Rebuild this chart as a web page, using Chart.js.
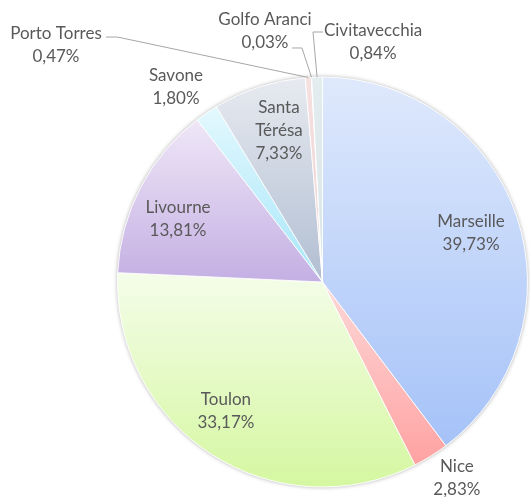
<!DOCTYPE html>
<html>
<head>
<meta charset="utf-8">
<script src="https://cdn.jsdelivr.net/npm/chart.js@4/dist/chart.umd.min.js"></script>
<style>
  html, body { margin: 0; padding: 0; background: #ffffff; }
  #wrap { width: 530px; height: 497px; position: relative; }
</style>
</head>
<body>
<div id="wrap"><canvas id="c" width="530" height="497"></canvas></div>
<script>
// ---- data ----
const categories = ['Marseille', 'Nice', 'Toulon', 'Livourne', 'Savone', 'Santa Térésa', 'Porto Torres', 'Golfo Aranci', 'Civitavecchia'];
const shares = [39.73, 2.83, 33.17, 13.81, 1.80, 7.33, 0.47, 0.03, 0.84];
const labelLines = [['Marseille'], ['Nice'], ['Toulon'], ['Livourne'], ['Savone'], ['Santa', 'Térésa'], ['Porto Torres'], ['Golfo Aranci'], ['Civitavecchia']];

// ---- styles ----
const colorTop = ['#dfe9fc', '#fdd8d8', '#f4fde9', '#efe7f7', '#e3f8fd', '#e7eaf0', '#f5e0e0', '#f3dede', '#e3ecee'];
const colorBottom = ['#a5c2f8', '#ffa2a2', '#d5f7a0', '#c4afe3', '#a6e6fa', '#b1bed2', '#efd2d2', '#efd4d4', '#dae6e9'];
// label placement relative to pie centre, in units of the radius
const labelPos = [
  [0.723, -0.238], [0.654, 0.954], [-0.470, 0.630], [-0.703, -0.307], [-0.713, -0.951],
  [-0.212, -0.735], [-1.297, -1.153], [-0.280, -1.221], [0.246, -1.168]
];
// leader lines: [start, elbow] in radius units, null = no leader
const leaders = [null, null, null, null, null, null,
  [[-1.0535, -1.192], [-0.9976, -1.192]],
  [[-0.1484, -1.1387], [-0.0998, -1.1387]],
  [[0.0024, -1.2165], [-0.0462, -1.2165]]
];

const total = shares.reduce((a, b) => a + b, 0);

function pieGeom(chart) {
  const ca = chart.chartArea;
  const cx = (ca.left + ca.right) / 2, cy = (ca.top + ca.bottom) / 2;
  const R = Math.min(ca.right - ca.left, ca.bottom - ca.top) / 2;
  return { cx, cy, R };
}
function angleRange(i) {
  let cum = 0;
  for (let k = 0; k < i; k++) cum += shares[k];
  const a0 = -Math.PI / 2 + 2 * Math.PI * cum / total;
  const a1 = a0 + 2 * Math.PI * shares[i] / total;
  return [a0, a1];
}
function contains(a0, a1, a) {
  const twoPi = 2 * Math.PI;
  let x = a;
  while (x < a0) x += twoPi;
  while (x > a0 + twoPi) x -= twoPi;
  return x <= a1;
}

const shadowPlugin = {
  id: 'pieShadow',
  beforeDatasetsDraw(chart) {
    const { cx, cy, R } = pieGeom(chart);
    const ctx = chart.ctx;
    ctx.save();
    ctx.shadowColor = 'rgba(0,0,0,0.35)';
    ctx.shadowBlur = 4;
    ctx.shadowOffsetX = 0;
    ctx.shadowOffsetY = 0;
    ctx.fillStyle = '#ffffff';
    ctx.beginPath();
    ctx.arc(cx, cy, R - 0.5, 0, Math.PI * 2);
    ctx.fill();
    ctx.restore();
  }
};

const labelPlugin = {
  id: 'pieLabels',
  afterDatasetsDraw(chart) {
    const { cx, cy, R } = pieGeom(chart);
    const ctx = chart.ctx;
    const meta = chart.getDatasetMeta(0);
    ctx.save();
    // leaders
    ctx.strokeStyle = '#a6a6a6';
    ctx.lineWidth = 1;
    leaders.forEach((ld, i) => {
      if (!ld) return;
      const arc = meta.data[i];
      const mid = (arc.startAngle + arc.endAngle) / 2;
      const tx = arc.x + Math.cos(mid) * arc.outerRadius;
      const ty = arc.y + Math.sin(mid) * arc.outerRadius;
      ctx.beginPath();
      ctx.moveTo(cx + ld[0][0] * R, cy + ld[0][1] * R);
      ctx.lineTo(cx + ld[1][0] * R, cy + ld[1][1] * R);
      ctx.lineTo(tx, ty);
      ctx.stroke();
    });
    // text
    ctx.fillStyle = '#595959';
    ctx.font = '17px Lato, "Open Sans", sans-serif';
    ctx.textAlign = 'center';
    ctx.textBaseline = 'middle';
    const lh = 23;
    categories.forEach((c, i) => {
      const lines = labelLines[i].concat([shares[i].toFixed(2).replace('.', ',') + '%']);
      const x = cx + labelPos[i][0] * R;
      const y = cy + labelPos[i][1] * R;
      const y0 = y - (lines.length - 1) * lh / 2;
      lines.forEach((t, k) => ctx.fillText(t, x, y0 + k * lh));
    });
    ctx.restore();
  }
};

new Chart(document.getElementById('c'), {
  type: 'pie',
  data: {
    labels: categories,
    datasets: [{
      data: shares,
      backgroundColor(ctx) {
        const chart = ctx.chart;
        if (!chart.chartArea) return colorTop[ctx.dataIndex];
        const i = ctx.dataIndex;
        const { cx, cy, R } = pieGeom(chart);
        const [a0, a1] = angleRange(i);
        const ys = [cy, cy + R * Math.sin(a0), cy + R * Math.sin(a1)];
        if (contains(a0, a1, -Math.PI / 2)) ys.push(cy - R);
        if (contains(a0, a1, Math.PI / 2)) ys.push(cy + R);
        const yMin = Math.min(...ys), yMax = Math.max(...ys);
        const g = chart.ctx.createLinearGradient(0, yMin, 0, Math.max(yMax, yMin + 1));
        g.addColorStop(0, colorTop[i]);
        g.addColorStop(1, colorBottom[i]);
        return g;
      },
      borderColor: 'rgba(255,255,255,0.85)',
      borderWidth: 1
    }]
  },
  options: {
    responsive: false,
    animation: false,
    layout: { padding: { top: 76, bottom: 9, left: 117, right: 2 } },
    plugins: { legend: { display: false }, tooltip: { enabled: false } }
  },
  plugins: [shadowPlugin, labelPlugin]
});
</script>
</body>
</html>
